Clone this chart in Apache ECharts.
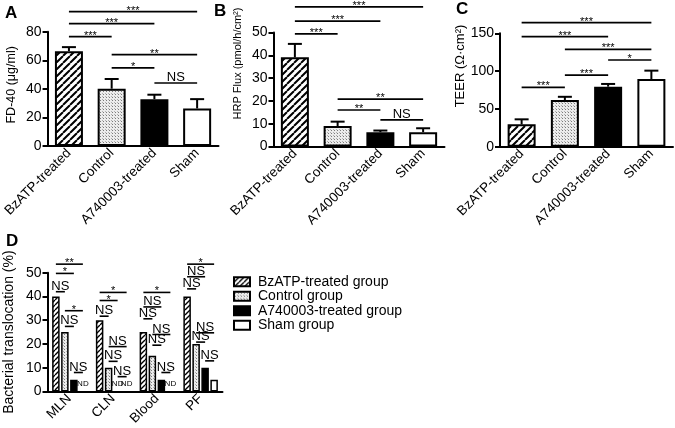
<!DOCTYPE html>
<html>
<head>
<meta charset="utf-8">
<script src="https://cdn.jsdelivr.net/npm/echarts@6/dist/echarts.min.js"></script>
<style>
html,body{margin:0;padding:0;background:#fff;}
#chart{width:675px;height:428px;}
</style>
</head>
<body>
<div id="chart"></div>
<script>
// ---------- data ----------
const categories = ['BzATP-treated', 'Control', 'A740003-treated', 'Sham'];

const fdMeans = [66.4, 40.1, 32.8, 26.3];
const fdSem = [2.8, 6.8, 3.1, 6.5];
const hrpMeans = [39.1, 9.0, 6.3, 6.3];
const hrpSem = [5.9, 1.9, 0.7, 1.7];
const teerMeans = [29.6, 61.8, 79.4, 89.5];
const teerSem = [6.6, 4.2, 3.6, 11.1];

// significance brackets: [fromCategory, toCategory, yValue]
const sigA = [[0, 3, 94.1], [0, 2, 85.6], [0, 1, 76.5], [1, 3, 64.0], [1, 2, 54.7], [2, 3, 44.1]];
const sigALabels = ['***', '***', '***', '**', '*', 'NS'];
const sigB = [[0, 3, 61.2], [0, 2, 55.0], [0, 1, 49.4], [1, 3, 20.8], [1, 2, 16.0], [2, 3, 11.7]];
const sigBLabels = ['***', '***', '***', '**', '**', 'NS'];
const sigC = [[0, 3, 164], [0, 2, 145.6], [1, 3, 128.8], [2, 3, 114.7], [1, 2, 94.8], [0, 1, 78.5]];
const sigCLabels = ['***', '***', '***', '*', '***', '***'];

const sitesD = ['MLN', 'CLN', 'Blood', 'PF'];
const groupNames = ['BzATP-treated group', 'Control group', 'A740003-treated group', 'Sham group'];
const bzatpD = [40, 30, 25, 40];
const controlD = [25, 10, 15, 20];
const a740D = [5, null, 5, 10];
const shamD = [null, null, null, 5];
// ND markers: [site, group]
const ndMarks = [[0, 3], [1, 2], [1, 3], [2, 3]];
const ndY = 3.2;
// panel D brackets: [site, fromGroup, toGroup, yValue]
const sigD = [
  [0, 0, 3, 53.6], [0, 0, 2, 49.7], [0, 0, 1, 42.0], [0, 1, 3, 34.0], [0, 1, 2, 27.4], [0, 2, 3, 8.0],
  [1, 0, 3, 41.7], [1, 0, 2, 38.3], [1, 0, 1, 31.7], [1, 1, 3, 18.9], [1, 1, 2, 12.7], [1, 2, 3, 6.25],
  [2, 0, 3, 41.7], [2, 0, 2, 35.6], [2, 0, 1, 30.6], [2, 1, 3, 24.0], [2, 1, 2, 19.5], [2, 2, 3, 8.0],
  [3, 0, 3, 53.6], [3, 0, 2, 48.3], [3, 0, 1, 43.2], [3, 1, 3, 24.7], [3, 1, 2, 20.8], [3, 2, 3, 12.9]
];
const sigDLabels = [
  '**', '*', 'NS', '*', 'NS', 'NS',
  '*', '*', 'NS', 'NS', 'NS', 'NS',
  '*', 'NS', 'NS', 'NS', 'NS', 'NS',
  '*', 'NS', 'NS', 'NS', 'NS', 'NS'
];

// ---------- styling helpers ----------
const FONT = 'Liberation Sans, Arial, Helvetica, sans-serif';

function hatchPattern(step, lw) {
  const c = document.createElement('canvas');
  c.width = step; c.height = step;
  const g = c.getContext('2d');
  g.fillStyle = '#fff'; g.fillRect(0, 0, step, step);
  g.strokeStyle = '#000'; g.lineWidth = lw;
  g.beginPath();
  for (let k = -1; k <= 1; k++) {
    g.moveTo(k * step, step);
    g.lineTo((k + 1) * step, 0);
  }
  g.stroke();
  return c;
}
function dotPattern() {
  const c = document.createElement('canvas');
  c.width = 3; c.height = 3;
  const g = c.getContext('2d');
  g.fillStyle = '#ececec'; g.fillRect(0, 0, 3, 3);
  g.fillStyle = '#7c7c7c'; g.fillRect(1, 1, 1, 1);
  g.fillStyle = '#b0b0b0'; g.fillRect(0, 0, 1, 1);
  return c;
}
const hatchBig = { image: hatchPattern(7, 2), repeat: 'repeat' };
const hatchSmall = { image: hatchPattern(5, 1.4), repeat: 'repeat' };
const dots = { image: dotPattern(), repeat: 'repeat' };
const fillsABC = [hatchBig, dots, '#000', '#fff'];
const fillsD = [hatchSmall, dots, '#000', '#fff'];

function xAx(gi, data) {
  return {
    type: 'category', gridIndex: gi, data: data,
    axisLine: { lineStyle: { color: '#000', width: 2 } },
    axisTick: { alignWithLabel: true, length: 5, lineStyle: { color: '#000', width: 2 } },
    axisLabel: { rotate: 45, fontSize: 13.5, color: '#000', margin: 5, fontFamily: FONT }
  };
}
function yAx(gi, max, interval, name, nameSize, nameGap, shiftUp) {
  return {
    type: 'value', gridIndex: gi, min: 0, max: max, interval: interval,
    name: name, nameLocation: 'middle', nameGap: nameGap,
    nameTextStyle: { fontSize: nameSize, color: '#000', fontFamily: FONT, padding: [0, 0, 0, 2 * shiftUp] },
    axisLine: { show: true, lineStyle: { color: '#000', width: 2 } },
    axisTick: { show: true, length: 5, lineStyle: { color: '#000', width: 2 } },
    axisLabel: { fontSize: 14, color: '#000', margin: 6, fontFamily: FONT },
    splitLine: { show: false }
  };
}

function errRender(params, api) {
  const x = api.value(0), m = api.value(1), e = api.value(2);
  const b = api.coord([x, m]), t = api.coord([x, m + e]);
  return {
    type: 'group', children: [
      { type: 'line', shape: { x1: b[0], y1: b[1], x2: t[0], y2: t[1] }, style: { stroke: '#000', lineWidth: 2 } },
      { type: 'line', shape: { x1: t[0] - 7, y1: t[1], x2: t[0] + 7, y2: t[1] }, style: { stroke: '#000', lineWidth: 2 } }
    ]
  };
}

function sigText(lab, cx, y) {
  const ns = lab === 'NS';
  return {
    type: 'text', x: cx, y: ns ? y - 5.5 : y - 1,
    style: {
      text: lab, fill: '#000', align: 'center', verticalAlign: 'middle',
      fontSize: ns ? 13 : 11, fontFamily: FONT
    }
  };
}

function bracketRender(labels) {
  return function (params, api) {
    const a = api.coord([api.value(0), api.value(2)]);
    const b = api.coord([api.value(1), api.value(2)]);
    return {
      type: 'group', children: [
        { type: 'line', shape: { x1: a[0], y1: a[1], x2: b[0], y2: b[1] }, style: { stroke: '#000', lineWidth: 1.7 } },
        sigText(labels[params.dataIndex], (a[0] + b[0]) / 2, a[1])
      ]
    };
  };
}

// panel D bar layout (pixels)
const D_BAR_W = 7.5;
const D_OFFS = [-13.5, -4.5, 4.5, 13.5];

function bracketRenderD(params, api) {
  const s = api.value(0), f = api.value(1), t = api.value(2), y = api.value(3);
  const p = api.coord([s, y]);
  const x1 = p[0] + D_OFFS[f], x2 = p[0] + D_OFFS[t];
  return {
    type: 'group', children: [
      { type: 'line', shape: { x1: x1, y1: p[1], x2: x2, y2: p[1] }, style: { stroke: '#000', lineWidth: 1.6 } },
      sigText(sigDLabels[params.dataIndex], (x1 + x2) / 2, p[1])
    ]
  };
}
function ndRender(params, api) {
  const p = api.coord([api.value(0), ndY]);
  return {
    type: 'text', x: p[0] + D_OFFS[api.value(1)], y: p[1],
    style: { text: 'ND', fill: '#000', align: 'center', verticalAlign: 'middle', fontSize: 8, fontFamily: FONT }
  };
}

function barSeries(gi, means) {
  return {
    type: 'bar', xAxisIndex: gi, yAxisIndex: gi, barWidth: 28,
    data: means.map((v, i) => ({ value: v, itemStyle: { color: fillsABC[i] } })),
    itemStyle: { borderColor: '#000', borderWidth: 2 },
    emphasis: { disabled: true }, silent: true
  };
}
function errSeries(gi, means, sem) {
  return {
    type: 'custom', xAxisIndex: gi, yAxisIndex: gi, renderItem: errRender,
    data: means.map((v, i) => [i, v, sem[i]]), encode: { x: 0, y: 1 }, silent: true, z: 5
  };
}
function sigSeries(gi, sig, labels) {
  return {
    type: 'custom', xAxisIndex: gi, yAxisIndex: gi, renderItem: bracketRender(labels),
    data: sig, encode: { x: 0, y: 2 }, silent: true, z: 6
  };
}

const dSeriesData = [bzatpD, controlD, a740D, shamD];

const option = {
  animation: false,
  backgroundColor: '#fff',
  textStyle: { fontFamily: FONT },
  grid: [
    { left: 47.3, top: 31.7, width: 171.2, height: 114.3 },
    { left: 273.5, top: 32.5, width: 171, height: 114 },
    { left: 500, top: 33.3, width: 173, height: 113.4 },
    { left: 47.5, top: 272.7, width: 175, height: 120 }
  ],
  xAxis: [xAx(0, categories), xAx(1, categories), xAx(2, categories), xAx(3, sitesD)],
  yAxis: [
    yAx(0, 80, 20, 'FD-40 (μg/ml)', 12.5, 30, 4),
    yAx(1, 50, 10, 'HRP Flux (pmol/h/cm²)', 11, 30, 26),
    yAx(2, 150, 50, 'TEER (Ω·cm²)', 13, 32, 24),
    yAx(3, 50, 10, 'Bacterial translocation (%)', 14, 31, 0)
  ],
  legend: {
    data: groupNames, orient: 'vertical', left: 233, top: 274.5, padding: 0,
    itemWidth: 16, itemHeight: 9, itemGap: 0, icon: 'rect', selectedMode: false,
    itemStyle: { borderColor: '#000', borderWidth: 2 },
    textStyle: { fontSize: 14, color: '#000', fontFamily: FONT, lineHeight: 14.5, padding: [0, 0, 0, 3] }
  },
  graphic: [
    { type: 'text', left: 5, top: 5, style: { text: 'A', fontSize: 17, fontWeight: 'bold', fill: '#000', fontFamily: FONT } },
    { type: 'text', left: 214, top: 3, style: { text: 'B', fontSize: 17, fontWeight: 'bold', fill: '#000', fontFamily: FONT } },
    { type: 'text', left: 456, top: 1, style: { text: 'C', fontSize: 17, fontWeight: 'bold', fill: '#000', fontFamily: FONT } },
    { type: 'text', left: 6, top: 233, style: { text: 'D', fontSize: 17, fontWeight: 'bold', fill: '#000', fontFamily: FONT } }
  ],
  series: [
    barSeries(0, fdMeans), barSeries(1, hrpMeans), barSeries(2, teerMeans),
    errSeries(0, fdMeans, fdSem), errSeries(1, hrpMeans, hrpSem), errSeries(2, teerMeans, teerSem),
    sigSeries(0, sigA, sigALabels), sigSeries(1, sigB, sigBLabels), sigSeries(2, sigC, sigCLabels)
  ].concat(groupNames.map((n, k) => ({
    type: 'bar', name: n, xAxisIndex: 3, yAxisIndex: 3, barWidth: D_BAR_W, barGap: '20%',
    data: dSeriesData[k],
    itemStyle: { color: fillsD[k], borderColor: '#000', borderWidth: 1.5 },
    emphasis: { disabled: true }, silent: true
  }))).concat([
    { type: 'custom', xAxisIndex: 3, yAxisIndex: 3, renderItem: bracketRenderD, data: sigD, encode: { x: 0, y: 3 }, silent: true, z: 6 },
    { type: 'custom', xAxisIndex: 3, yAxisIndex: 3, renderItem: ndRender, data: ndMarks, encode: { x: 0 }, silent: true, z: 6 }
  ])
};

const chart = echarts.init(document.getElementById('chart'), null, { renderer: 'canvas' });
chart.setOption(option);
</script>
</body>
</html>
